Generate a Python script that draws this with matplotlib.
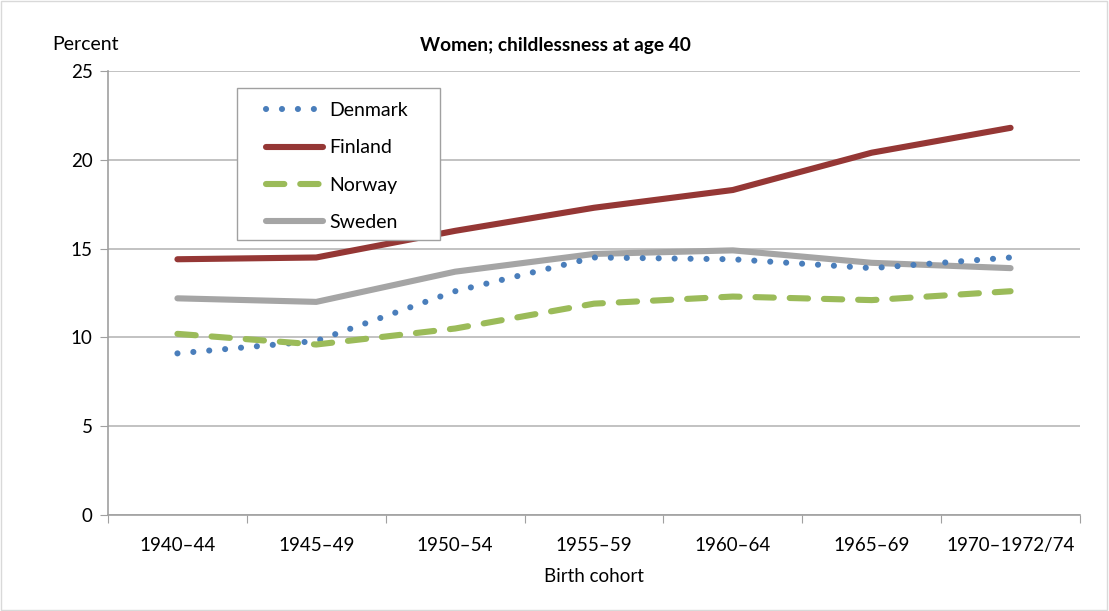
import matplotlib
matplotlib.use("Agg")
import matplotlib.pyplot as plt
from matplotlib.patches import Rectangle

plt.rcParams['font.family'] = ['Lato', 'DejaVu Sans']

cohorts = ["1940–44", "1945–49", "1950–54", "1955–59", "1960–64", "1965–69", "1970–1972/74"]
denmark = [9.1, 9.8, 12.6, 14.5, 14.4, 13.9, 14.5]
finland = [14.4, 14.5, 16.0, 17.3, 18.3, 20.4, 21.8]
norway = [10.2, 9.6, 10.5, 11.9, 12.3, 12.1, 12.6]
sweden = [12.2, 12.0, 13.7, 14.7, 14.9, 14.2, 13.9]

W, H = 1109, 611
fig = plt.figure(figsize=(W/100, H/100), dpi=100)
ax = fig.add_axes([108/W, 1-515/H, (1080-108)/W, (515-71)/H])

x = list(range(len(cohorts)))
LW = 4.4
ax.plot(x, denmark, color='#4A7EBB', lw=LW, linestyle=(0, (0.01, 2.6)),
        dash_capstyle='round', solid_capstyle='round', label='Denmark', zorder=3)
ax.plot(x, finland, color='#953735', lw=LW, solid_capstyle='round',
        solid_joinstyle='round', label='Finland', zorder=4)
ax.plot(x, norway, color='#9BBB59', lw=LW, linestyle=(0, (3.0, 2.6)),
        dash_capstyle='round', label='Norway', zorder=3)
ax.plot(x, sweden, color='#A5A5A5', lw=LW, solid_capstyle='round',
        solid_joinstyle='round', label='Sweden', zorder=2)

ax.set_xlim(-0.5, len(cohorts) - 0.5)
ax.set_ylim(0, 25)
ax.set_yticks([0, 5, 10, 15, 20, 25])
ax.set_xticks([i - 0.5 for i in range(len(cohorts) + 1)])
ax.set_xticklabels([])
ax.set_xticks(x, minor=True)
ax.set_xticklabels(cohorts, minor=True)
ax.tick_params(axis='x', which='minor', length=0, pad=16, labelsize=13.5)
ax.tick_params(axis='x', which='major', length=6, color='#A0A0A0', direction='out')
ax.tick_params(axis='y', length=6, color='#A0A0A0', direction='out', labelsize=13.5, pad=5)

ax.grid(axis='y', color='#B8B8B8', lw=1.2)
ax.set_axisbelow(True)
for s in ['top', 'right']:
    ax.spines[s].set_visible(False)
for s in ['left', 'bottom']:
    ax.spines[s].set_color('#A0A0A0')
    ax.spines[s].set_linewidth(1.2)

fig.text(85/W, 1-44/H, "Percent", ha='center', va='center', fontsize=14)
fig.text(555/W, 1-45/H, "Women; childlessness at age 40", ha='center', va='center',
         fontsize=13.8, fontweight='bold')
fig.text(594/W, 1-577/H, "Birth cohort", ha='center', va='center', fontsize=13.5)

# legend box
box = Rectangle((237/W, 1-240/H), (440-237)/W, (240-88)/H, transform=fig.transFigure,
                facecolor='white', edgecolor='#A0A0A0', lw=1.0, zorder=5)
fig.patches.append(box)
leg = fig.legend(*ax.get_legend_handles_labels(), loc='upper left',
                 bbox_to_anchor=(266/W, 1-102/H), bbox_transform=fig.transFigure,
                 frameon=False, fontsize=14, handlelength=2.95,
                 labelspacing=1.05, borderpad=0, handletextpad=0.3, borderaxespad=0)
leg.set_zorder(6)

fig.patches.append(Rectangle((0.001, 0.001), 0.997, 0.997, transform=fig.transFigure,
                             fill=False, edgecolor='#D9D9D9', lw=1.0))

fig.savefig("out.png", dpi=100)
